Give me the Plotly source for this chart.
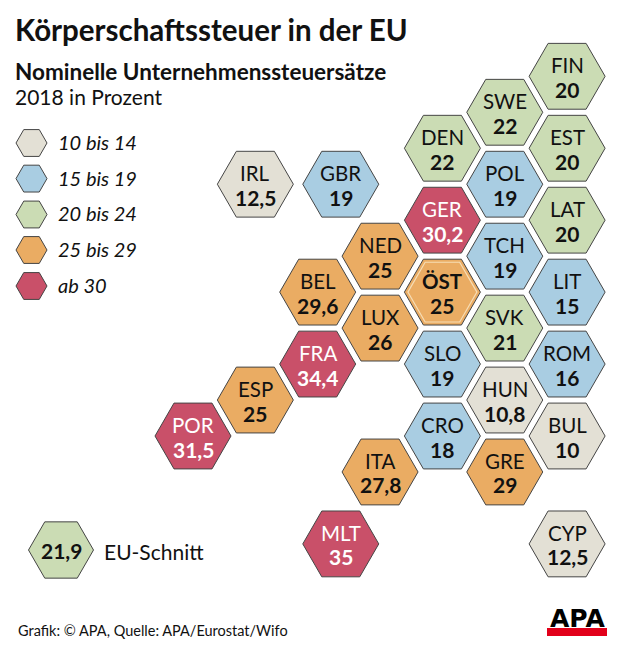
import plotly.graph_objects as go

W, H = 620, 649
# --- data ---
countries = ["FIN","SWE","EST","DEN","POL","GBR","IRL","GER","LAT","TCH","NED","BEL","ÖST","LIT",
             "LUX","SVK","FRA","SLO","ROM","ESP","HUN","POR","CRO","BUL","ITA","GRE","MLT","CYP"]
rates = [20,22,20,22,19,19,12.5,30.2,20,19,25,29.6,25,15,26,21,34.4,19,16,25,10.8,31.5,18,10,27.8,29,35,12.5]
grid_col = [6,5,6,4,5,2.37,1,4,6,5,3,2,4,6,3,5,2,4,6,1,5,0,4,6,3,5,2.37,6]
grid_row = [0,1,2,2,3,3,3,4,4,5,5,6,6,6,7,7,8,8,8,9,9,10,10,10,11,11,13,13]
legend_labels = ["10 bis 14","15 bis 19","20 bis 24","25 bis 29","ab 30"]
bin_lower = [10,15,20,25,30]
eu_avg = 21.9

# --- styling ---
colors = ["#E3E0D5","#A9CDE2","#CBDCB4","#EAAC63","#C95069"]
line_col = "#454545"
FONT = "Lato"
X0, XS = 193.0, 62.35   # pixel of column 0, pixels per column
Y0, YS = 76.3, 35.97    # pixel of row 0, pixels per row

def to_col(px): return (px - X0) / XS
def to_row(py): return (py - Y0) / YS
def fmt(v): return str(v).replace(".", ",")
def colour(v):
    idx = sum(1 for b in bin_lower if v >= b) - 1
    return colors[idx]

fig = go.Figure()
# country hexagons
fig.add_trace(go.Scatter(
    x=grid_col, y=grid_row, mode="markers", hoverinfo="skip",
    marker=dict(symbol="hexagon2", size=76, color=[colour(v) for v in rates],
                line=dict(color=line_col, width=1))))
# inner outline for Austria
i = countries.index("ÖST")
fig.add_trace(go.Scatter(
    x=[grid_col[i]], y=[grid_row[i]], mode="markers", hoverinfo="skip",
    marker=dict(symbol="hexagon2", size=69, color="rgba(0,0,0,0)",
                line=dict(color="#F6DDB5", width=1.2))))
# legend hexagons
leg_y = [143, 178.6, 214.5, 250, 286]
fig.add_trace(go.Scatter(
    x=[to_col(31.5)]*5, y=[to_row(p) for p in leg_y], mode="markers", hoverinfo="skip",
    marker=dict(symbol="hexagon2", size=31, color=colors, line=dict(color=line_col, width=1))))
# EU average hexagon
fig.add_trace(go.Scatter(
    x=[to_col(61)], y=[to_row(550)], mode="markers", hoverinfo="skip",
    marker=dict(symbol="hexagon2", size=65, color=colour(eu_avg), line=dict(color=line_col, width=1))))

ann = []
def paper_text(px, py, text, size, color="#111111", anchor="left", family=FONT):
    ann.append(dict(xref="paper", yref="paper", x=px/W, y=1-py/H, text=text, showarrow=False,
                    xanchor=anchor, yanchor="middle", align="left", xshift=-1 if anchor == "left" else 0,
                    font=dict(family=family, size=size, color=color)))

for name, v, c, r in zip(countries, rates, grid_col, grid_row):
    tc = "#FFFFFF" if v >= 30 else "#111111"
    nm = f"<b>{name}</b>" if name == "ÖST" else name
    ann.append(dict(x=c, y=r, xref="x", yref="y", text=nm, showarrow=False, yshift=11,
                    xanchor="center", yanchor="middle", font=dict(family=FONT, size=20.5, color=tc)))
    ann.append(dict(x=c, y=r, xref="x", yref="y", text=f"<b>{fmt(v)}</b>", showarrow=False, yshift=-13,
                    xanchor="center", yanchor="middle", font=dict(family=FONT, size=21, color=tc)))

paper_text(14, 30, "<b>Körperschaftssteuer in der EU</b>", 29.5)
paper_text(14, 71, "<b>Nominelle Unternehmenssteuersätze</b>", 22.5)
paper_text(14, 97, "2018 in Prozent", 21)
for lab, p in zip(legend_labels, leg_y):
    paper_text(57, p - 1, f"<i>{lab}</i>", 20)
paper_text(61, 550, f"<b>{fmt(eu_avg)}</b>", 21, anchor="center")
paper_text(103, 551, "EU-Schnitt", 21)
paper_text(17, 630, "Grafik: © APA, Quelle: APA/Eurostat/Wifo", 14.5)
paper_text(577, 618, "<b>APA</b>", 25, color="#000000", anchor="center", family="DejaVu Sans")

fig.update_layout(
    width=W, height=H, margin=dict(l=0, r=0, t=0, b=0, pad=0),
    paper_bgcolor="white", plot_bgcolor="white", showlegend=False,
    xaxis=dict(range=[to_col(0), to_col(W)], visible=False, fixedrange=True),
    yaxis=dict(range=[to_row(H), to_row(0)], visible=False, fixedrange=True),
    annotations=ann,
    shapes=[dict(type="rect", xref="paper", yref="paper", x0=547/W, x1=607/W,
                 y0=1-636/H, y1=1-628/H, fillcolor="#E2001A", line=dict(width=0))],
)
fig.write_html("out.html", config={"displayModeBar": False},
               post_script="document.body.style.margin='0';document.documentElement.style.overflow='hidden';")
